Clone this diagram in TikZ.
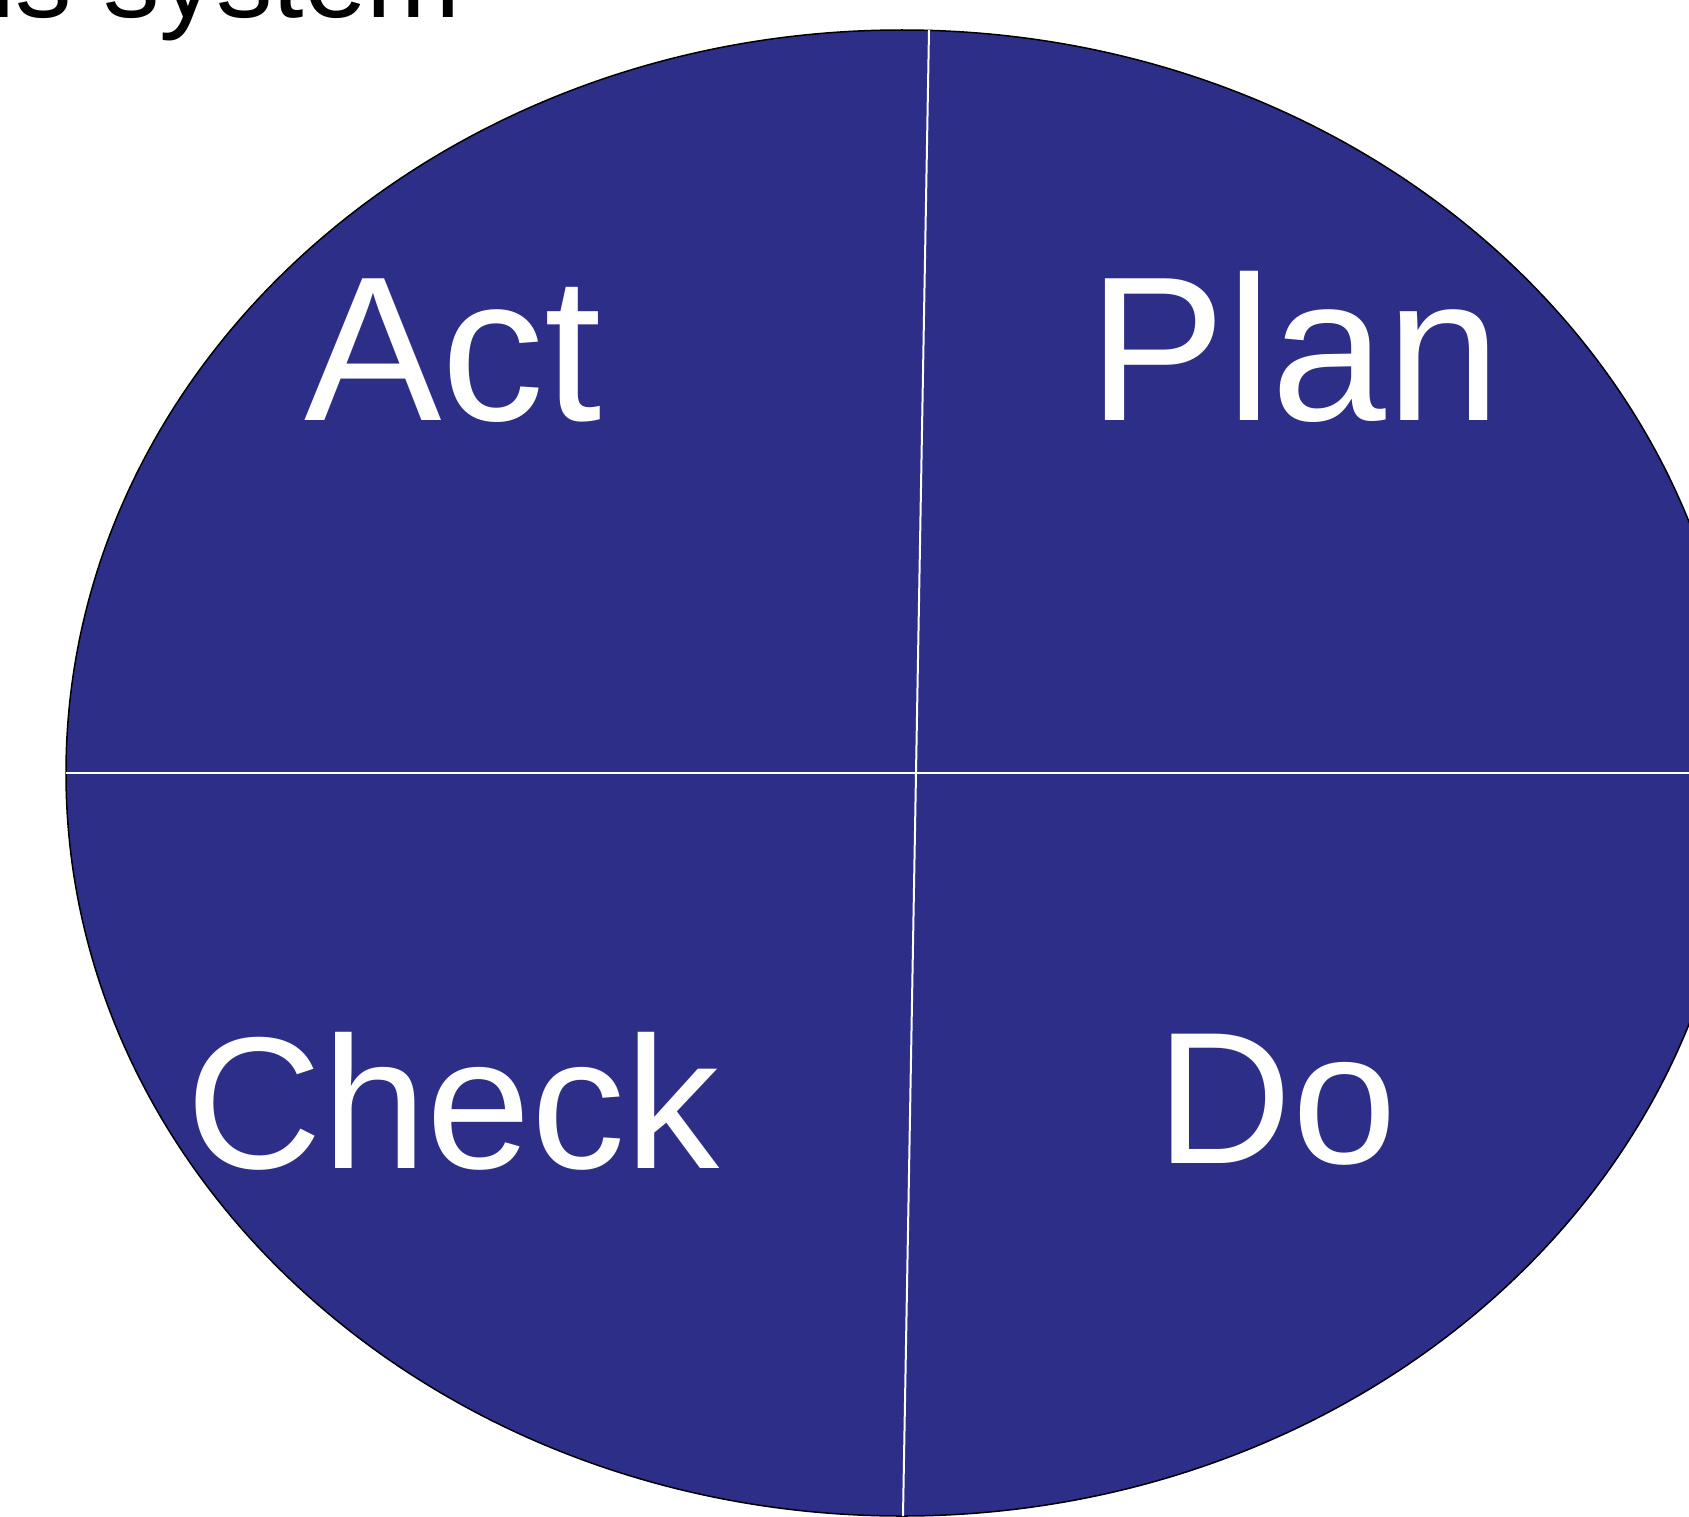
\documentclass[tikz,border=0pt]{standalone}
\usepackage{fontspec}
\setmainfont{Liberation Sans}
\definecolor{pdcablue}{HTML}{2D2E88}
\begin{document}
\begin{tikzpicture}[x=1pt,y=-1pt,
  phase/.style={text=white,inner sep=0pt,anchor=base},
  bigphase/.style={phase,font=\fontsize{206}{240}\selectfont},
  smallphase/.style={phase,font=\fontsize{188}{220}\selectfont},
  divider/.style={draw=white,line width=2pt}]
  \useasboundingbox (0,0) rectangle (1689,1517);
  \clip (0,0) rectangle (1689,1517);
  % heading (runs off the top of the page)
  \node[anchor=base west,inner sep=0pt,font=\fontsize{113}{130}\selectfont] (heading) at (-10,18) {is system};
  % the cycle
  \draw[fill=pdcablue,draw=black,line width=1.5pt] (902,773) ellipse [x radius=836, y radius=743];
  \coordinate (top) at (929,30);
  \coordinate (bottom) at (903,1516);
  \coordinate (west) at (66,773);
  \coordinate (east) at (1760,773);
  \draw[divider] (west) -- (east);
  \draw[divider] (top) -- (bottom);
  % quadrant labels
  \node[bigphase] (act) at (453,420) {Act};
  \node[bigphase] (plan) at (1295,420) {Plan};
  \node[smallphase] (check) at (453,1168) {Check};
  \node[smallphase] (do) at (1277,1163) {Do};
\end{tikzpicture}
\end{document}
